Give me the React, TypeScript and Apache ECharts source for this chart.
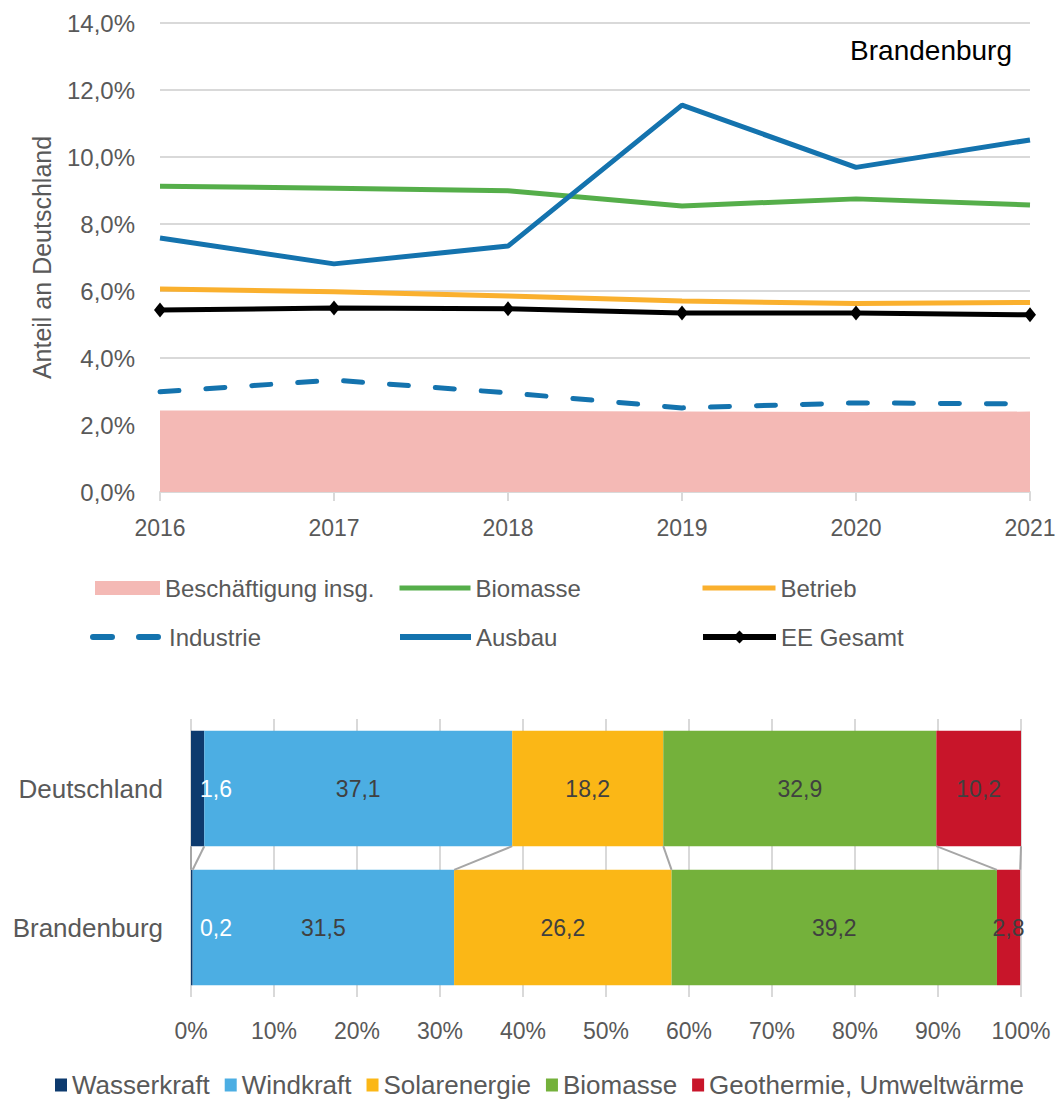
import React, { useEffect, useRef } from 'react';
import * as echarts from 'echarts';

// ---------- Data: line chart (share of Germany, %) ----------
const years = ['2016', '2017', '2018', '2019', '2020', '2021'];
const beschaeftigung = [2.43, 2.43, 2.42, 2.40, 2.39, 2.40];
const biomasse = [9.13, 9.07, 8.99, 8.54, 8.75, 8.57];
const betrieb = [6.06, 5.98, 5.85, 5.70, 5.63, 5.66];
const industrie = [2.99, 3.34, 2.96, 2.51, 2.66, 2.63];
const ausbau = [7.58, 6.81, 7.34, 11.55, 9.69, 10.51];
const eeGesamt = [5.43, 5.49, 5.47, 5.34, 5.34, 5.29];

// ---------- Data: stacked bar (%) ----------
const barCategories = ['Deutschland', 'Brandenburg'];
const wasserkraft = [1.6, 0.2];
const windkraft = [37.1, 31.5];
const solarenergie = [18.2, 26.2];
const biomasseBar = [32.9, 39.2];
const geothermie = [10.2, 2.8];

const FONT = '"Liberation Sans", Arial, sans-serif';
const GRAY = '#595959';
const GRID = '#D9D9D9';

const C_PINK = '#F4B9B5';
const C_GREEN = '#55AE4A';
const C_ORANGE = '#FAB02E';
const C_BLUE = '#1473AE';

const C_WASSER = '#0D3A6E';
const C_WIND = '#4CAEE3';
const C_SOLAR = '#FBB716';
const C_BIO = '#74B13B';
const C_GEO = '#C8152A';

const fmt1 = (v: number) => v.toFixed(1).replace('.', ',');

export default function App() {
  const ref = useRef<HTMLDivElement>(null);

  useEffect(() => {
    const chart = echarts.init(ref.current!, null, { renderer: 'svg' });

    const stacks = [wasserkraft, windkraft, solarenergie, biomasseBar, geothermie];
    const connectors: number[][] = [[0, 0, 0]];
    let d = 0;
    let b = 0;
    stacks.forEach((s) => {
      d += s[0];
      b += s[1];
      connectors.push([d, b, 0]);
    });

    const legendText = { fontFamily: FONT, fontSize: 24, color: GRAY };
    const hiddenSymbol = { color: 'rgba(0,0,0,0)', borderWidth: 0, opacity: 0 };
    const mkLegend = (item: any, left: number, top: number, w: number, h: number, lw?: number) => ({
      data: [item],
      left,
      top,
      itemWidth: w,
      itemHeight: h,
      selectedMode: false,
      textStyle: legendText,
      padding: 0,
      ...(lw ? { lineStyle: { width: lw } } : {}),
    });

    const barLabel = {
      show: true,
      position: 'inside',
      fontFamily: FONT,
      fontSize: 23,
      color: '#404040',
      formatter: (p: any) => fmt1(p.value),
    };
    const barSeries = (name: string, data: number[], color: string, label: any) => ({
      type: 'bar',
      name,
      data,
      stack: 'total',
      xAxisIndex: 1,
      yAxisIndex: 1,
      barCategoryGap: '17%',
      itemStyle: { color },
      label,
    });

    const option: any = {
      animation: false,
      textStyle: { fontFamily: FONT },
      grid: [
        { left: 160, right: 29, top: 23, bottom: 608, containLabel: false },
        { left: 191, right: 38, top: 719, bottom: 103, containLabel: false },
      ],
      graphic: [
        {
          type: 'text',
          right: 47,
          top: 36,
          style: { text: 'Brandenburg', font: `28px ${FONT}`, fill: '#000000' },
        },
      ],
      legend: [
        mkLegend({ name: 'Beschäftigung insg.', icon: 'rect', itemStyle: { color: C_PINK } }, 95, 576, 65, 14),
        mkLegend({ name: 'Biomasse', itemStyle: hiddenSymbol }, 397, 576, 71, 14, 5),
        mkLegend({ name: 'Betrieb', itemStyle: hiddenSymbol }, 700, 576, 73, 14, 5),
        mkLegend({ name: 'Industrie', itemStyle: hiddenSymbol }, 90, 625, 71, 14, 6),
        mkLegend({ name: 'Ausbau', itemStyle: hiddenSymbol }, 397, 625, 71, 14, 6),
        mkLegend({ name: 'EE Gesamt' }, 700, 625, 73, 16, 6),
        {
          data: [
            { name: 'Wasserkraft', icon: 'rect', itemStyle: { color: C_WASSER } },
            { name: 'Windkraft', icon: 'rect', itemStyle: { color: C_WIND } },
            { name: 'Solarenergie', icon: 'rect', itemStyle: { color: C_SOLAR } },
            { name: 'Biomasse', icon: 'rect', itemStyle: { color: C_BIO } },
            { name: 'Geothermie, Umweltwärme', icon: 'rect', itemStyle: { color: C_GEO } },
          ],
          left: 55,
          top: 1072,
          itemWidth: 12,
          itemHeight: 13,
          itemGap: 15,
          padding: 0,
          selectedMode: false,
          textStyle: { fontFamily: FONT, fontSize: 26, color: GRAY, lineHeight: 26 },
        },
      ],
      xAxis: [
        {
          type: 'category',
          gridIndex: 0,
          data: years,
          boundaryGap: false,
          axisLine: { show: true, lineStyle: { color: GRID, width: 2 } },
          axisTick: { show: true, length: 9, lineStyle: { color: GRID, width: 2 } },
          axisLabel: { fontFamily: FONT, fontSize: 23, color: GRAY, margin: 24 },
          splitLine: { show: false },
        },
        {
          type: 'value',
          gridIndex: 1,
          min: 0,
          max: 100,
          interval: 10,
          axisLine: { show: false },
          axisTick: { show: false },
          axisLabel: { fontFamily: FONT, fontSize: 23, color: GRAY, margin: 22, formatter: '{value}%' },
          splitLine: { show: true, lineStyle: { color: GRID, width: 2 } },
        },
      ],
      yAxis: [
        {
          type: 'value',
          gridIndex: 0,
          min: 0,
          max: 14,
          interval: 2,
          name: 'Anteil an Deutschland',
          nameLocation: 'middle',
          nameRotate: 90,
          nameGap: 106,
          nameTextStyle: { fontFamily: FONT, fontSize: 25, color: GRAY },
          axisLine: { show: false },
          axisTick: { show: false },
          axisLabel: {
            fontFamily: FONT,
            fontSize: 24,
            color: GRAY,
            margin: 25,
            formatter: (v: number) => fmt1(v) + '%',
          },
          splitLine: { show: true, lineStyle: { color: GRID, width: 2 } },
        },
        {
          type: 'category',
          gridIndex: 1,
          data: barCategories,
          inverse: true,
          axisLine: { show: false },
          axisTick: { show: false },
          axisLabel: { fontFamily: FONT, fontSize: 26, color: GRAY, margin: 28 },
        },
      ],
      series: [
        {
          type: 'line',
          name: 'Beschäftigung insg.',
          data: beschaeftigung,
          symbol: 'none',
          lineStyle: { width: 0, color: C_PINK },
          itemStyle: { color: C_PINK },
          areaStyle: { color: C_PINK, opacity: 1 },
          z: 1,
        },
        {
          type: 'line',
          name: 'Industrie',
          data: industrie,
          symbol: 'none',
          lineStyle: { width: 5, color: C_BLUE, type: [19, 27], cap: 'round' },
          itemStyle: { color: C_BLUE },
          z: 2,
        },
        {
          type: 'line',
          name: 'EE Gesamt',
          data: eeGesamt,
          symbol: 'diamond',
          symbolSize: [12, 15],
          lineStyle: { width: 5, color: '#000000' },
          itemStyle: { color: '#000000' },
          z: 3,
        },
        {
          type: 'line',
          name: 'Betrieb',
          data: betrieb,
          symbol: 'none',
          lineStyle: { width: 5, color: C_ORANGE },
          itemStyle: { color: C_ORANGE },
          z: 3,
        },
        {
          type: 'line',
          name: 'Biomasse',
          data: biomasse,
          symbol: 'none',
          lineStyle: { width: 5, color: C_GREEN },
          itemStyle: { color: C_GREEN },
          z: 3,
        },
        {
          type: 'line',
          name: 'Ausbau',
          data: ausbau,
          symbol: 'none',
          lineStyle: { width: 5, color: C_BLUE },
          itemStyle: { color: C_BLUE },
          z: 4,
        },
        barSeries('Wasserkraft', wasserkraft, C_WASSER, {
          ...barLabel,
          position: 'insideLeft',
          distance: 9,
          color: '#FFFFFF',
        }),
        barSeries('Windkraft', windkraft, C_WIND, barLabel),
        barSeries('Solarenergie', solarenergie, C_SOLAR, barLabel),
        barSeries('Biomasse', biomasseBar, C_BIO, barLabel),
        barSeries('Geothermie, Umweltwärme', geothermie, C_GEO, barLabel),
        {
          type: 'custom',
          name: 'Verbindungslinien',
          xAxisIndex: 1,
          yAxisIndex: 1,
          data: connectors,
          encode: { x: [0, 1], y: 2 },
          z: 5,
          silent: true,
          renderItem: (params: any, api: any) => {
            const band = api.size([0, 1])[1];
            const half = (band * 0.83) / 2;
            const p1 = api.coord([api.value(0), 0]);
            const p2 = api.coord([api.value(1), 1]);
            return {
              type: 'line',
              shape: { x1: p1[0], y1: p1[1] + half, x2: p2[0], y2: p2[1] - half },
              style: { stroke: '#A6A6A6', lineWidth: 2 },
            };
          },
        },
      ],
    };

    chart.setOption(option);
    return () => chart.dispose();
  }, []);

  return (
    <div
      ref={ref}
      style={{ position: 'absolute', left: 0, top: 0, width: 1059, height: 1100 }}
    />
  );
}
